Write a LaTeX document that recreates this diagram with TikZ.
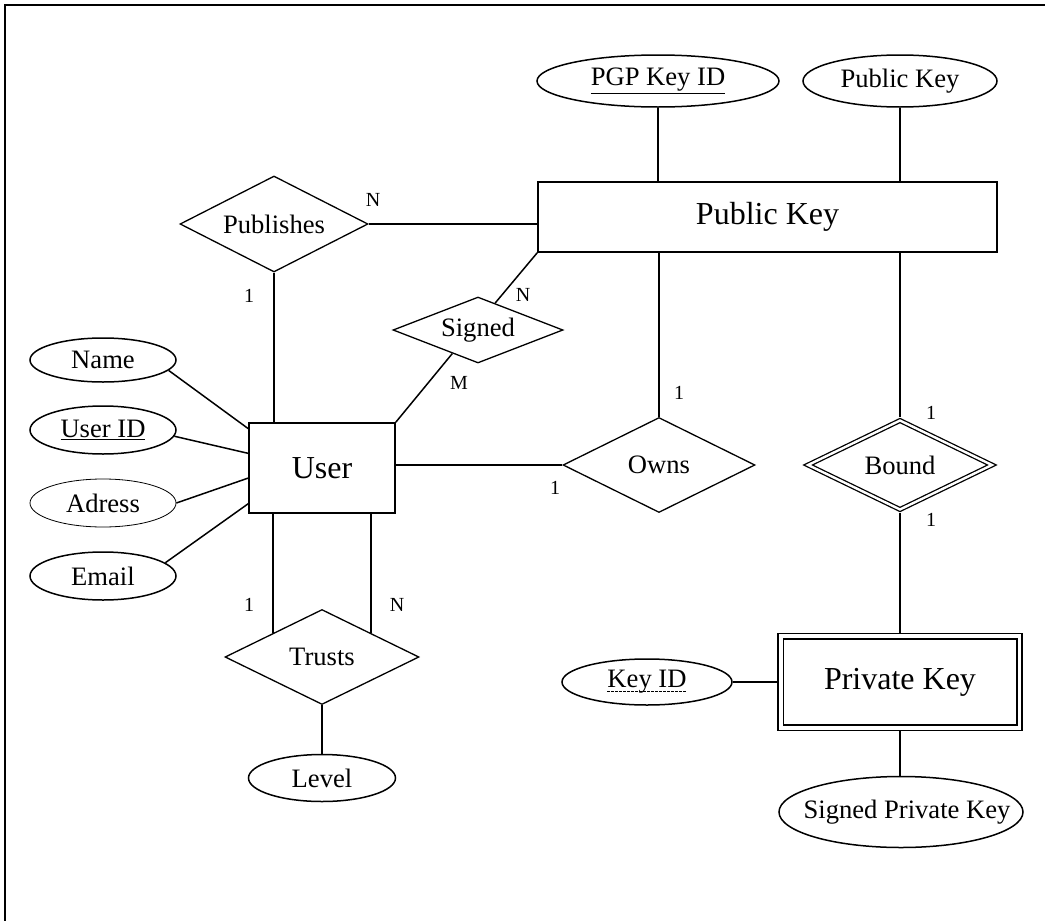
\documentclass[tikz,border=0pt]{standalone}
\usepackage{fontspec}
\setmainfont{Liberation Serif}
\usetikzlibrary{shapes.geometric,calc}

\tikzset{
  entity/.style={draw, rectangle, line width=1.6pt, inner sep=0pt,
    font=\fontsize{32}{38}\selectfont},
  wentity/.style={entity, double, double distance=3.6pt, outer sep=3.4pt},
  attr/.style={draw, ellipse, line width=1.5pt, inner sep=0pt,
    font=\fontsize{26.6}{32}\selectfont},
  rel/.style={draw, diamond, aspect=2, line width=1.3pt, inner sep=0pt,
    font=\fontsize{26.6}{32}\selectfont},
  wrel/.style={rel, double, double distance=2.4pt, outer sep=2.5pt},
  card/.style={inner sep=0pt, font=\fontsize{20}{24}\selectfont},
  link/.style={line width=1.5pt}
}

\begin{document}
\begin{tikzpicture}[x=1pt, y=-1pt]
  \useasboundingbox (0,0) rectangle (1045,921);
  % frame
  \draw[line width=1.5pt] (1045,5) -- (5,5) -- (5,921);

  % entities
  \node[entity, minimum width=459pt, minimum height=70pt] (pk) at (767.5,217) {Public Key};
  \node[entity, minimum width=146pt, minimum height=90pt] (user) at (322,468) {User};
  \node[wentity, minimum width=238.6pt, minimum height=91.6pt] (prk) at (900,682) {Private Key};

  % relationships
  \node[rel, minimum width=188pt, minimum height=96pt] (pub) at (274,224) {Publishes};
  \node[rel, minimum width=170pt, minimum height=66pt] (sig) at (478,330) {Signed};
  \node[rel, minimum width=192pt, minimum height=95pt] (owns) at (659,465) {Owns};
  \node[wrel, minimum width=186pt, minimum height=91pt] (bound) at (900,465) {Bound};
  \node[rel, minimum width=194pt, minimum height=95pt] (trusts) at (322,657) {Trusts};

  % attributes
  \node[attr, minimum width=242pt, minimum height=52pt] (pgp) at (658,81) {\underline{PGP Key ID}};
  \node[attr, minimum width=194pt, minimum height=52pt] (pka) at (900,81) {Public Key};
  \node[attr, minimum width=146pt, minimum height=44pt] (name) at (103,360) {Name};
  \node[attr, minimum width=146pt, minimum height=48pt] (uid) at (103,430) {\underline{User ID}};
  \node[attr, line width=0.8pt, minimum width=146pt, minimum height=48pt] (adr) at (103,503) {Adress};
  \node[attr, minimum width=146pt, minimum height=48pt] (email) at (103,576) {Email};
  \node[attr, minimum width=147pt, minimum height=47pt] (level) at (322,778) {Level};
  \node[attr, minimum width=170pt, minimum height=46pt,
    label={[name=keyidtxt, inner sep=0pt, font=\fontsize{26.6}{32}\selectfont]center:Key ID}]
    (keyid) at (647,682) {};
  \node[attr, minimum width=244pt, minimum height=71pt] (spk) at (901,812)
    {\makebox[0pt]{\hspace{12pt}Signed Private Key}};
  \draw[line width=0.8pt, dash pattern=on 2.5pt off 1.5pt]
    ([yshift=-4pt]keyidtxt.base west) -- ([yshift=-4pt]keyidtxt.base east);

  % connectors
  \draw[link] (pgp) -- (pgp.south |- pk.north);
  \draw[link] (pka) -- (pka.south |- pk.north);
  \draw[link] (pub) -- (pub.east -| pk.west);
  \draw[link] (pub) -- (pub.south |- user.north);
  \draw[link] ($(sig.north)!.2!(sig.east)$) -- (pk.south west);
  \draw[link] ($(sig.south)!.3!(sig.west)$) -- (user.north east);
  \draw[link] (name.-9) -- ($(user.north west)!.07!(user.south west)$);
  \draw[link] (uid.-5) -- ($(user.north west)!.34!(user.south west)$);
  \draw[link] (adr.east) -- ($(user.north west)!.61!(user.south west)$);
  \draw[link] (email.12) -- ($(user.north west)!.89!(user.south west)$);
  \draw[link] (owns.west) -- (owns.west -| user.east);
  \draw[link] (owns) -- (owns.north |- pk.south);
  \draw[link] (bound) -- (bound.north |- pk.south);
  \draw[link] (bound) -- (prk);
  \draw[link] (keyid) -- (prk);
  \draw[link] (prk) -- (prk.south |- spk.north);
  \coordinate (tl) at ($(trusts.north)!.5!(trusts.west)$);
  \coordinate (tr) at ($(trusts.north)!.5!(trusts.east)$);
  \draw[link] (tl) -- (tl |- user.south);
  \draw[link] (tr) -- (tr |- user.south);
  \draw[link] (trusts) -- (level);

  % cardinalities
  \node[card] (cpubpk) at (373,200) {N};
  \node[card] (cpubuser) at (249,296) {1};
  \node[card] (csigpk) at (523,295) {N};
  \node[card] (csiguser) at (459,383) {M};
  \node[card] (cownpk) at (679,393) {1};
  \node[card] (cownuser) at (555,488) {1};
  \node[card] (cbdpk) at (931,413) {1};
  \node[card] (cbdprk) at (931,520) {1};
  \node[card] (ctrust1) at (249,605) {1};
  \node[card] (ctrust2) at (397,605) {N};
\end{tikzpicture}
\end{document}
